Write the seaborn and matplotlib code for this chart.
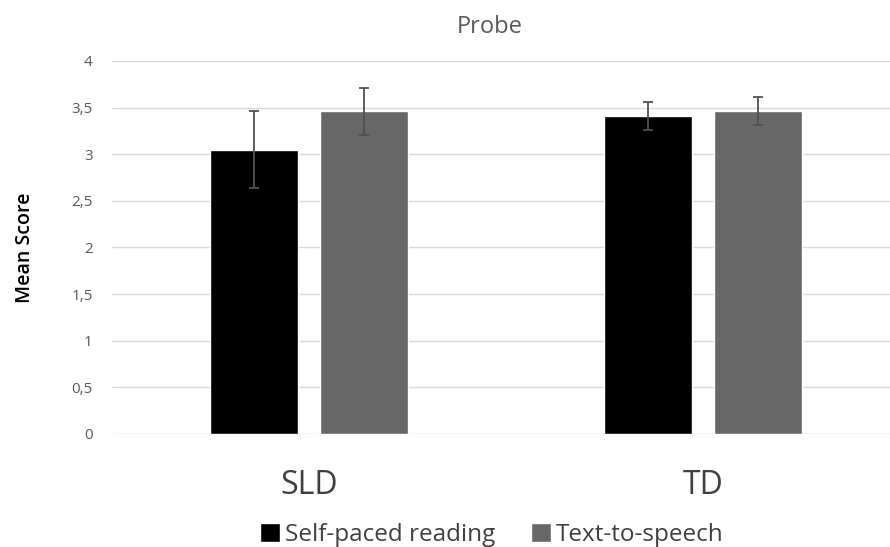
import pandas as pd
import numpy as np
import matplotlib.pyplot as plt
import seaborn as sns

groups = ['SLD', 'SLD', 'TD', 'TD']
conditions = ['Self-paced reading', 'Text-to-speech', 'Self-paced reading', 'Text-to-speech']
means = [3.05, 3.46, 3.41, 3.46]
errors = [0.41, 0.25, 0.155, 0.15]
y_ticks = [0, 0.5, 1, 1.5, 2, 2.5, 3, 3.5, 4]
y_labels = ['0', '0,5', '1', '1,5', '2', '2,5', '3', '3,5', '4']

df = pd.DataFrame({'group': groups, 'condition': conditions, 'mean': means, 'err': errors})

sns.set_theme(style="white")
plt.rcParams['font.family'] = ['Open Sans', 'DejaVu Sans']

fig = plt.figure(figsize=(8.9, 5.47), dpi=100)
# plot area runs a little past the right edge, as in the original
ax = fig.add_axes([112 / 890, 0.2066, 788 / 890, 0.6819])

sns.barplot(data=df, x='group', y='mean', hue='condition',
            palette=['#000000', '#676767'], width=0.558, gap=0.2,
            errorbar=None, ax=ax, legend=True)

# error bars placed at the bar centres seaborn drew
bars = [p for p in ax.patches if p.get_height() > 0]
bars = sorted(bars, key=lambda p: p.get_x())
for p, e in zip(bars, df.sort_values(['group', 'condition'])['err']):
    ax.errorbar(p.get_x() + p.get_width() / 2, p.get_height(), yerr=e,
                fmt='none', ecolor='#505050', elinewidth=1.3, capsize=3.3, capthick=1.3)

ax.set_ylim(0, 4)
ax.set_xlim(-0.5, 1.5)
ax.set_yticks(y_ticks)
ax.set_yticklabels(y_labels)
ax.yaxis.grid(True, color='#d9d9d9', linewidth=1)
ax.set_axisbelow(True)
for s in ax.spines.values():
    s.set_visible(False)
ax.tick_params(axis='y', length=0, pad=14, labelsize=11, labelcolor='#595959')
ax.tick_params(axis='x', length=0, pad=25, labelsize=23, labelcolor='#404040')
ax.set_xlabel('')
ax.set_ylabel('Mean Score', fontsize=14, color='#000000', labelpad=26, fontweight='semibold')
ax.set_title('Probe', fontsize=17, color='#595959', pad=20, x=0.48)

ax.legend(loc='upper center', bbox_to_anchor=(0.482, -0.18), ncol=2, frameon=False,
          fontsize=17.5, labelcolor='#404040', handlelength=0.8, handleheight=0.8,
          handletextpad=0.2, columnspacing=1.5)

fig.savefig('out.png', dpi=100)
